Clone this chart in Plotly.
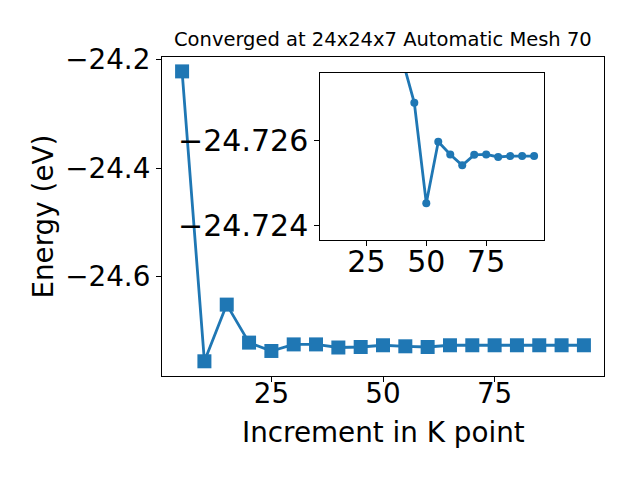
import plotly.graph_objects as go

# Main data
kpoints = [5, 10, 15, 20, 25, 30, 35, 40, 45, 50, 55, 60, 65, 70, 75, 80, 85, 90, 95]
energy = [-24.2217, -24.7557, -24.6513, -24.7213, -24.7367, -24.7246, -24.7246, -24.7303,
          -24.7294, -24.7262, -24.7281, -24.7294, -24.7262, -24.7262, -24.7262, -24.7262,
          -24.7262, -24.7262, -24.7262]

# Inset data (zoom)
inset_k = [40, 45, 50, 55, 60, 65, 70, 75, 80, 85, 90, 95]
inset_energy = [-24.72794, -24.72691, -24.72452, -24.72598, -24.72568, -24.72542,
                -24.72567, -24.72568, -24.72562, -24.72564, -24.72564, -24.72564]

main_xticks = [25, 50, 75]
main_yticks = [-24.2, -24.4, -24.6]
main_yticklabels = ["\u221224.2", "\u221224.4", "\u221224.6"]
inset_xticks = [25, 50, 75]
inset_yticks = [-24.726, -24.724]
inset_yticklabels = ["\u221224.726", "\u221224.724"]

title_text = "Converged at 24x24x7 Automatic Mesh 70"
xlabel = "Increment in K point"
ylabel = "Energy (eV)"

BLUE = "#1f77b4"
FONT = "DejaVu Sans"
BIG = 27.8
INSET = 30

fig = go.Figure()
fig.add_trace(go.Scatter(
    x=kpoints, y=energy, mode="lines+markers",
    line=dict(color=BLUE, width=2.8),
    marker=dict(symbol="square", size=14, color=BLUE),
    xaxis="x", yaxis="y", showlegend=False, cliponaxis=True,
))
fig.add_trace(go.Scatter(
    x=inset_k, y=inset_energy, mode="lines+markers",
    line=dict(color=BLUE, width=2.8),
    marker=dict(symbol="circle", size=8, color=BLUE),
    xaxis="x2", yaxis="y2", showlegend=False, cliponaxis=True,
))

axis_common = dict(
    showgrid=False, zeroline=False, showline=True, linecolor="black", linewidth=1.1,
    mirror=True, ticks="outside", ticklen=5, tickwidth=1.1, tickcolor="black",
    automargin=False,
)

fig.update_layout(
    width=640, height=480,
    margin=dict(l=162, r=36, t=57, b=104),
    plot_bgcolor="white", paper_bgcolor="white",
    font=dict(family=FONT, color="black"),
    xaxis=dict(domain=[0, 1], range=[0.5, 99.5], tickvals=main_xticks,
               ticktext=[str(v) for v in main_xticks], anchor="y",
               tickfont=dict(family=FONT, size=BIG, color="black"),
               ticklabelstandoff=-12, **axis_common),
    yaxis=dict(domain=[0, 1], range=[-24.7828, -24.1952], tickvals=main_yticks,
               ticktext=main_yticklabels, anchor="x",
               tickfont=dict(family=FONT, size=BIG, color="black"), **axis_common),
    xaxis2=dict(domain=[0.3581, 0.8649], range=[5.75, 99.25], tickvals=inset_xticks,
                ticktext=[str(v) for v in inset_xticks], anchor="y2",
                tickfont=dict(family=FONT, size=INSET, color="black"),
                ticklabelstandoff=-10, **axis_common),
    yaxis2=dict(domain=[0.4263, 0.9508], range=[-24.723643, -24.727626], tickvals=inset_yticks,
                ticktext=inset_yticklabels, anchor="x2",
                tickfont=dict(family=FONT, size=INSET, color="black"), **axis_common),
    shapes=[dict(type="rect", xref="x2 domain", yref="y2 domain", x0=0, x1=1, y0=0, y1=1,
                 fillcolor="white", line=dict(width=0), layer="below")],
    annotations=[
        dict(text=title_text, xref="paper", yref="paper", x=0.5, y=1, yanchor="bottom",
             xanchor="center", yshift=4, showarrow=False, font=dict(family=FONT, size=19.5)),
        dict(text=xlabel, xref="paper", yref="paper", x=0.5, y=0, yanchor="top",
             xanchor="center", yshift=-38, showarrow=False, font=dict(family=FONT, size=BIG)),
        dict(text=ylabel, xref="paper", yref="paper", x=-0.269, y=0.5, yanchor="middle",
             xanchor="center", textangle=-90, showarrow=False, font=dict(family=FONT, size=BIG)),
    ],
)

fig.write_html("out.html", config={"displayModeBar": False},
               post_script="document.body.style.margin='0';")
